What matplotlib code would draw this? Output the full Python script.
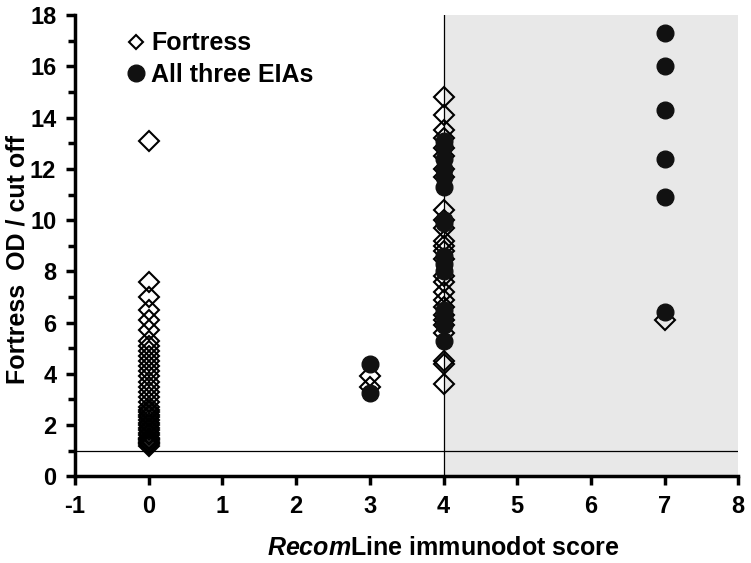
import matplotlib
matplotlib.use("Agg")
import matplotlib.pyplot as plt
from matplotlib.lines import Line2D
from matplotlib.ticker import MultipleLocator

# Fortress OD / cut off per RecomLine score
fortress_x0 = [13.1, 7.6, 7.0, 6.5, 6.1, 5.7, 5.3, 5.1, 4.9, 4.7, 4.5, 4.3, 4.1,
               3.9, 3.7, 3.5, 3.3, 3.1, 2.9, 2.7, 2.6, 2.5, 2.4, 2.3, 2.2, 2.1,
               2.0, 1.9, 1.8, 1.7, 1.6, 1.5, 1.45, 1.4, 1.35, 1.3, 1.25, 1.2]
fortress_x3 = [3.9, 3.5]
fortress_x4 = [14.8, 14.1, 13.5, 13.2, 12.8, 12.5, 12.0, 11.7, 10.4, 10.0, 9.7,
               9.2, 9.0, 8.8, 8.5, 7.8, 7.6, 7.2, 6.9, 6.6, 6.3, 6.1, 5.9, 5.6,
               4.5, 4.4, 3.6]
fortress_x7 = [6.1]

all3_x3 = [4.4, 3.25]
all3_x4 = [13.1, 12.9, 12.4, 12.0, 11.7, 11.3, 10.0, 9.9, 8.6, 8.3, 8.0, 6.5,
           6.2, 5.9, 5.3]
all3_x7 = [17.3, 16.0, 14.3, 12.4, 10.9, 6.4]

cutoff = 1
score_cut = 4

fort_x = [0] * len(fortress_x0) + [3] * len(fortress_x3) + [4] * len(fortress_x4) + [7] * len(fortress_x7)
fort_y = fortress_x0 + fortress_x3 + fortress_x4 + fortress_x7
all_x = [3] * len(all3_x3) + [4] * len(all3_x4) + [7] * len(all3_x7)
all_y = all3_x3 + all3_x4 + all3_x7

plt.rcParams['font.family'] = ['Liberation Sans', 'DejaVu Sans']
plt.rcParams['font.weight'] = 'bold'
plt.rcParams['axes.unicode_minus'] = False
plt.rcParams['mathtext.fontset'] = 'custom'
plt.rcParams['mathtext.rm'] = 'Liberation Sans:bold'
plt.rcParams['mathtext.it'] = 'Liberation Sans:italic:bold'

fig = plt.figure(figsize=(7.51, 5.63), dpi=100)
ax = fig.add_axes([0.1, 0.154, 0.883, 0.819])

ax.axvspan(score_cut, 8, color='#e8e8e8', zorder=0, lw=0)
ax.axhline(cutoff, color='black', lw=0.9, zorder=1)
ax.axvline(score_cut, color='black', lw=0.9, zorder=1)

ax.plot(fort_x, fort_y, 'D', ms=10.5, mfc='none', mec='black', mew=1.5,
        ls='none', zorder=2)
ax.plot(all_x, all_y, 'o', ms=12, color='#111111', ls='none', zorder=3)

ax.set_xlim(-1, 8)
ax.set_ylim(0, 18)
ax.xaxis.set_major_locator(MultipleLocator(1))
ax.yaxis.set_major_locator(MultipleLocator(2))
ax.yaxis.set_minor_locator(MultipleLocator(1))

for s in ['top', 'right']:
    ax.spines[s].set_visible(False)
for s in ['left', 'bottom']:
    ax.spines[s].set_linewidth(2.5)
ax.tick_params(which='both', direction='out', width=2.5, color='black', labelsize=17)
ax.tick_params(which='major', length=6.5, pad=7)
ax.tick_params(which='minor', length=5)

ax.set_ylabel('Fortress  OD / cut off', fontsize=18, fontweight='bold')
ax.yaxis.set_label_coords(-0.069, 0.47)
ax.set_xlabel(r'$\it{Recom}$Line immunodot score', fontsize=18, fontweight='bold')
ax.xaxis.set_label_coords(0.555, -0.13)

handles = [
    Line2D([], [], marker='D', ms=7.5, mfc='none', mec='black', mew=1.5, ls='none'),
    Line2D([], [], marker='o', ms=12, color='#111111', ls='none'),
]
ax.legend(handles, ['Fortress', 'All three EIAs'], loc='upper left',
          bbox_to_anchor=(0.075, 0.965), frameon=False,
          prop={'weight': 'bold', 'size': 18}, handletextpad=0.15,
          handlelength=0.9, labelspacing=0.3, borderpad=0, borderaxespad=0)

fig.savefig('out.png', dpi=100)
